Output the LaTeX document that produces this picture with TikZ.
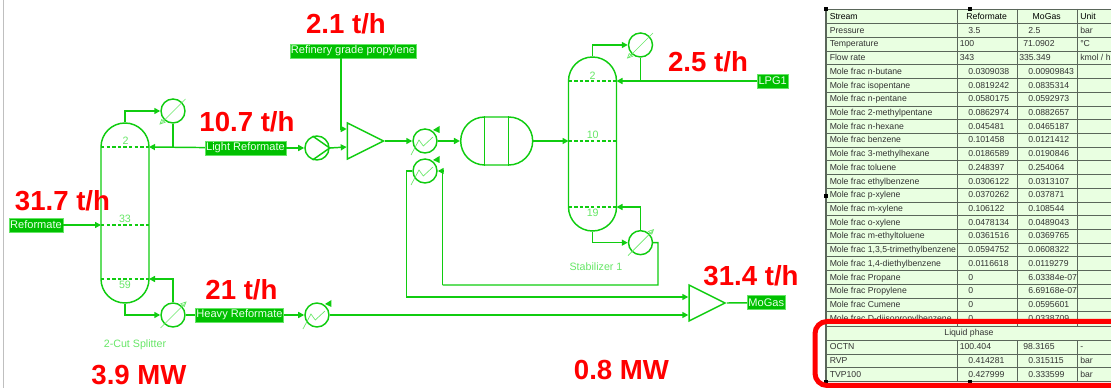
\documentclass[tikz,border=0pt]{standalone}
\usepackage{fontspec}
\setmainfont{Liberation Sans}
\usetikzlibrary{arrows.meta,shapes.geometric}
\definecolor{flowgreen}{HTML}{10CC10}
\definecolor{labelgreen}{HTML}{00C000}
\definecolor{paler}{HTML}{66E666}
\definecolor{cellgreen}{HTML}{E9FFE1}
\definecolor{gridgrey}{HTML}{5A665A}
\begin{document}
\begin{tikzpicture}[x=0.75pt, y=-0.75pt, node distance=36pt, >={Triangle[length=4.5pt,width=4.5pt]},
    flow/.style={draw=flowgreen, line width=1.1pt},
    unit/.style={circle, flow, minimum size=18pt, inner sep=0pt},
    column/.style={rectangle, flow, rounded corners=18pt, minimum width=36pt},
    mixer/.style={isosceles triangle, isosceles triangle stretches, flow, minimum width=27pt, minimum height=27pt, inner sep=0pt, anchor=lower side},
    stream/.style={fill=labelgreen, draw=paler, line width=0.3pt, text=white!92!green, font=\fontsize{8.3}{9}\selectfont, minimum height=10.5pt, inner xsep=0.8pt, inner ysep=0pt},
    tray/.style={draw=flowgreen, line width=0.9pt, dash pattern=on 2.6pt off 1.6pt},
    faint/.style={text=paler, font=\fontsize{8}{9}\selectfont, inner sep=0pt},
    glyph/.style={draw=paler, line width=0.5pt},
    result/.style={text=red, font=\fontsize{20.7}{24}\selectfont\bfseries, inner sep=0pt, text height=14.5pt, text depth=0pt},
    cell/.style={anchor=west, inner sep=0pt, text=black!80, font=\fontsize{6.5}{8}\selectfont, text height=4.8pt, text depth=1.2pt},
    handle/.style={fill=black, inner sep=0pt, minimum size=2.6pt}]
    \useasboundingbox (0,0) rectangle (1111,388);
    \clip (0,0) rectangle (1111,388);

    \coordinate (edgetop) at (3.5,0);
    \coordinate (edgebot) at (3.5,388);
    \draw [black!25, line width=1pt] (edgetop) -- (edgebot);

    % splitter section
    \node (reformate) [stream] at (36,225) {Reformate};
    \node (splitter) [column, minimum height=135pt] at (125,213) {};
    \node (cond1) [unit, right of=splitter, yshift=76.5pt] {};
    \node (reb1) [unit, right of=splitter, yshift=-76.5pt] {};
    \node (lightref) [stream] at (245.5,148) {Light Reformate};
    \node (heavyref) [stream] at (239.5,315) {Heavy Reformate};
    \node (pump) [unit, right of=lightref, xshift=17.6pt] {};
    \node (cooler3) [unit, right of=heavyref, xshift=22.1pt] {};

    % stabilizer section
    \node (propylene) [stream] at (353,51) {Refinery grade propylene};
    \node (mixer1) [mixer] at (346.7,141) {};
    \node (cooler1) [unit] at (425,141) {};
    \node (cooler2) [unit, below of=cooler1, yshift=13.5pt] {};
    \node (reactor) [column, minimum width=54pt, minimum height=36pt] at (496.7,141) {};
    \node (stabilizer) [column, minimum height=130.5pt] at (592.5,144) {};
    \node (cond2) [unit, right of=stabilizer, yshift=74.25pt] {};
    \node (reb2) [unit, right of=stabilizer, yshift=-74pt] {};
    \node (lpg) [stream] at (772.7,81) {LPG1};
    \node (mixer2) [mixer] at (688.3,303) {};
    \node (mogas) [stream] at (766.3,302.7) {MoGas};

    % feed points and trays
    \coordinate (sp2w) at (101,147);
    \coordinate (sp2e) at (149,147);
    \coordinate (sp33w) at (101,225);
    \coordinate (sp33e) at (149,225);
    \coordinate (sp59w) at (101,279);
    \coordinate (sp59e) at (149,279);
    \coordinate (st2w) at (568.5,81);
    \coordinate (st2e) at (616.5,81);
    \coordinate (st10w) at (568.5,141);
    \coordinate (st10e) at (616.5,141);
    \coordinate (st19w) at (568.5,207);
    \coordinate (st19e) at (616.5,207);
    \coordinate (mix1a) at (346.7,129);
    \coordinate (mix1b) at (346.7,147);
    \coordinate (mix2a) at (688.3,297);
    \coordinate (mix2b) at (688.3,315);
    \coordinate (propdrop) at (341,58);
    \coordinate (retleft) at (406.7,297);
    \coordinate (retright) at (442.7,285);
    \coordinate (retup) at (658,285);
    \coordinate (retcool) at (442.7,171);
    \coordinate (rebout) at (658,242.7);

    \draw [tray] (sp2w) -- (sp2e);
    \draw [tray] (sp33w) -- (sp33e);
    \draw [tray] (sp59w) -- (sp59e);
    \draw [tray] (st2w) -- (st2e);
    \draw [tray] (st10w) -- (st10e);
    \draw [tray] (st19w) -- (st19e);

    \draw [flow, ->] (reformate) -- (sp33w);
    \draw [flow, ->] (splitter.north) |- (cond1.west);
    \draw [flow] (cond1.south) -- (cond1.south |- sp2e);
    \draw [flow, ->] (lightref) -- (sp2e);
    \draw [flow, ->] (lightref) -- (pump.west);
    \draw [flow, ->] (pump.east) -- (mix1b);
    \draw [flow, ->] (propdrop) |- (mix1a);
    \draw [flow, ->] (splitter.south) |- (reb1.west);
    \draw [flow, ->] (reb1.north) |- (sp59e);
    \draw [flow] (reb1.east) -- (heavyref);
    \draw [flow, ->] (heavyref) -- (cooler3.west);
    \draw [flow, ->] (cooler3.east) -- (mix2b);

    \draw [flow, ->] (mixer1.apex) -- (cooler1.west);
    \draw [flow, ->] (cooler1.east) -- (reactor.west);
    \draw [flow, ->] (reactor.east) -- (st10w);
    \draw [flow, ->] (stabilizer.north) |- (cond2.west);
    \draw [flow] (cond2.south) -- (cond2.south |- st2e);
    \draw [flow, ->] (lpg) -- (st2e);
    \draw [flow, ->] (stabilizer.south) |- (reb2.west);
    \draw [flow, ->] (reb2.north) |- (st19e);
    \draw [flow] (reb2.east) -- (rebout) -- (retup) -- (retright);
    \draw [flow, ->] (retright) -- (retcool) -- (cooler2.east);
    \draw [flow, ->] (cooler2.west) -| (retleft) -- (mix2a);
    \draw [flow] (mixer2.apex) -- (mogas);

    % reactor beds and pump vanes
    \draw [flow] ([xshift=-9pt]reactor.north) -- ([xshift=-9pt]reactor.south);
    \draw [flow] ([xshift=9pt]reactor.north) -- ([xshift=9pt]reactor.south);
    \draw [flow] (pump.110) -- (pump.east) -- (pump.250);

    % condenser and cooler marks
    \foreach \hx in {cond1,reb1,cond2,reb2} {
        \draw [glyph] (\hx) ++(-12.5,13) -- ++(25,-25);
    }
    \foreach \hx in {cond1,cond2} {
        \draw [glyph] (\hx) ++(-13,13) -- ++(1.7,-4.5) -- ++(3.5,2.8) -- cycle;
    }
    \foreach \hx in {reb1,reb2} {
        \draw [glyph] (\hx) ++(13,-13) -- ++(-1.7,4.5) -- ++(-3.5,-2.8) -- cycle;
    }
    \foreach \hx in {cooler1,cooler2,cooler3} {
        \draw [glyph] (\hx) ++(-14,14) -- ++(8,-15) -- ++(4.3,6) -- ++(9.7,-9);
        \fill [flowgreen] (\hx) ++(8,-11) -- ++(6.5,-4) -- ++(0,7) -- cycle;
    }

    \node (tray2a) [faint] at (125.7,141) {2};
    \node (tray33) [faint] at (125,219) {33};
    \node (tray59) [faint] at (125,285) {59};
    \node (tray2b) [faint] at (592.7,75.5) {2};
    \node (tray10) [faint] at (592.7,135) {10};
    \node (tray19) [faint] at (592.7,213) {19};
    \node (splitname) [faint] at (135,344.5) {2-Cut Splitter};
    \node (stabname) [faint] at (596,266.7) {Stabilizer 1};

    \node (flowprop) [result] at (346,24) {2.1 t/h};
    \node (flowlight) [result] at (247,122) {10.7 t/h};
    \node (flowfeed) [result] at (62.5,201) {31.7 t/h};
    \node (flowheavy) [result] at (241.5,290) {21 t/h};
    \node (flowlpg) [result] at (708,62) {2.5 t/h};
    \node (flowgas) [result] at (751,276) {31.4 t/h};
    \node (dutysplit) [result] at (139,375) {3.9 MW};
    \node (dutystab) [result] at (621.5,370) {0.8 MW};

    % stream table
    \node (tablebg) [fill=cellgreen, minimum width=213.75pt, minimum height=279.4pt, inner sep=0pt] at (968.5,196) {};
    \foreach \ly in {23.7,37.4,51.2,64.9,78.6,92.3,106,119.7,133.5,147.2,160.9,174.6,188.3,202,215.8,229.5,243.2,256.9,270.6,284.3,298,311.8,326,340.3,354,367.8} {
        \draw [gridgrey, line width=0.6pt] (826,\ly) -- (1111,\ly);
    }
    \draw [gridgrey, line width=0.6pt] (826,9) -- (1111,9);
    \draw [gridgrey, line width=1.2pt] (826,381.7) -- (1111,381.7);
    \draw [gridgrey, line width=1pt] (826,9) -- (826,381.7);
    \foreach \lx in {957,1017,1077} {
        \draw [gridgrey, line width=0.6pt] (\lx,9) -- (\lx,326);
        \draw [gridgrey, line width=0.6pt] (\lx,340.3) -- (\lx,381.7);
    }

    \node (stream) [cell, text=black] at (829.5,17) {Stream};
    \node (headref) [cell, text=black, anchor=center] at (986.7,17) {Reformate};
    \node (headgas) [cell, text=black, anchor=center] at (1046.7,17) {MoGas};
    \node (headunit) [cell, text=black] at (1080,17) {Unit};
    \node (press) [cell] at (829.5,30.7) {Pressure};
    \node (pressa) [cell] at (968,30.7) {3.5};
    \node (pressb) [cell] at (1028,30.7) {2.5};
    \node (pressu) [cell] at (1080,30.7) {bar};
    \node (temp) [cell] at (829.5,44.4) {Temperature};
    \node (tempa) [cell] at (959.5,44.4) {100};
    \node (tempb) [cell] at (1023,44.4) {71.0902};
    \node (tempu) [cell] at (1080,44.4) {°C};
    \node (rate) [cell] at (829.5,58.2) {Flow rate};
    \node (ratea) [cell] at (959.5,58.2) {343};
    \node (rateb) [cell] at (1019,58.2) {335.349};
    \node (rateu) [cell] at (1080,58.2) {kmol / h};
    \foreach \comp/\vala/\valb [count=\i from 0] in {n-butane/0.0309038/0.00909843, isopentane/0.0819242/0.0835314, n-pentane/0.0580175/0.0592973, 2-methylpentane/0.0862974/0.0882657, n-hexane/0.045481/0.0465187, benzene/0.101458/0.0121412, 3-methylhexane/0.0186589/0.0190846, toluene/0.248397/0.254064, ethylbenzene/0.0306122/0.0313107, p-xylene/0.0370262/0.037871, m-xylene/0.106122/0.108544, o-xylene/0.0478134/0.0489043, m-ethyltoluene/0.0361516/0.0369765, {1,3,5-trimethylbenzene}/0.0594752/0.0608322, {1,4-diethylbenzene}/0.0116618/0.0119279, Propane/0/6.03384e-07, Propylene/0/6.69168e-07, Cumene/0/0.0595601, D-diisopropylbenzene/0/0.0338709} {
        \pgfmathsetmacro{\rowy}{71.9+13.72*\i}
        \node (frac\i) [cell] at (829.5,\rowy) {Mole frac \comp};
        \node (fraca\i) [cell] at (968,\rowy) {\vala};
        \node (fracb\i) [cell] at (1028,\rowy) {\valb};
    }
    \node (liquid) [cell, anchor=center] at (969,333.3) {Liquid phase};
    \node (octn) [cell] at (829.5,347.3) {OCTN};
    \node (octna) [cell] at (959.5,347.3) {100.404};
    \node (octnb) [cell] at (1023,347.3) {98.3165};
    \node (octnu) [cell] at (1080,347.3) {-};
    \node (rvp) [cell] at (829.5,361) {RVP};
    \node (rvpa) [cell] at (968,361) {0.414281};
    \node (rvpb) [cell] at (1028,361) {0.315115};
    \node (rvpu) [cell] at (1080,361) {bar};
    \node (tvp) [cell] at (829.5,374.7) {TVP100};
    \node (tvpa) [cell] at (968,374.7) {0.427999};
    \node (tvpb) [cell] at (1028,374.7) {0.333599};
    \node (tvpu) [cell] at (1080,374.7) {bar};

    \node (grip1) [handle] at (826,9) {};
    \node (grip2) [handle] at (970,9) {};
    \node (grip3) [handle] at (826,196) {};
    \node (grip4) [handle] at (826,382) {};
    \node (grip5) [handle] at (970,382) {};

    \node (highlight) [draw=red, line width=3.75pt, rounded corners=9pt, minimum width=232.5pt, minimum height=48pt] at (970,353.5) {};
\end{tikzpicture}
\end{document}
